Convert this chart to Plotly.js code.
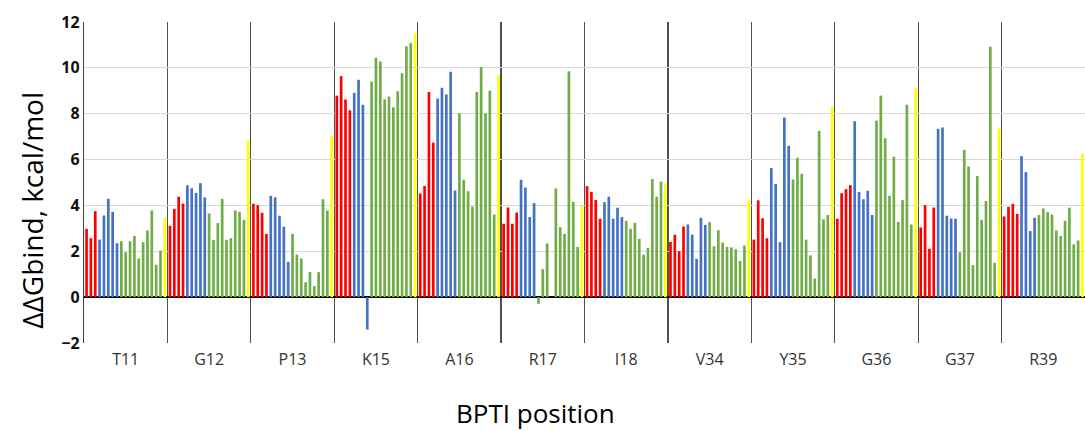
<!DOCTYPE html>
<html>
<head>
<meta charset="utf-8">
<script src="https://cdn.plot.ly/plotly-3.0.1.min.js"></script>
<style>html,body{margin:0;padding:0;background:#fff;}#chart{width:1085px;height:431px;}</style>
</head>
<body>
<div id="chart"></div>
<script>
// BPTI positions (x categories)
const positions = ['T11','G12','P13','K15','A16','R17','I18','V34','Y35','G36','G37','R39'];

// ΔΔGbind (kcal/mol) for the 19 substitutions at each position, left to right
const t11 = [2.98, 2.57, 3.75, 2.51, 3.56, 4.29, 3.72, 2.35, 2.44, 1.96, 2.44, 2.67, 1.69, 2.40, 2.91, 3.78, 1.41, 2.03, 3.49];
const g12 = [3.11, 3.85, 4.38, 4.08, 4.88, 4.75, 4.55, 4.97, 4.35, 3.65, 2.50, 3.23, 4.29, 2.50, 2.57, 3.78, 3.72, 3.37, 6.83];
const p13 = [4.07, 4.01, 3.68, 2.76, 4.42, 4.35, 3.55, 3.07, 1.54, 2.76, 1.86, 1.69, 0.65, 1.10, 0.48, 1.09, 4.27, 3.78, 7.05];
const k15 = [8.79, 9.64, 8.62, 8.15, 8.91, 9.48, 8.39, -1.41, 9.40, 10.44, 10.28, 8.63, 8.75, 8.28, 8.98, 9.77, 10.94, 11.08, 11.53];
const a16 = [4.52, 4.85, 8.95, 6.74, 8.66, 9.13, 8.84, 9.83, 4.65, 8.02, 5.12, 4.62, 3.95, 8.95, 10.04, 8.02, 9.01, 3.60, 9.68];
const r17 = [3.20, 3.91, 3.20, 3.69, 5.12, 4.78, 3.49, 4.10, -0.29, 1.22, 2.34, 0, 4.74, 3.05, 2.76, 9.85, 4.16, 2.19, 3.98];
const i18 = [4.84, 4.59, 4.24, 3.42, 4.14, 4.38, 3.42, 3.90, 3.49, 3.33, 2.98, 3.24, 2.54, 1.85, 2.15, 5.15, 4.38, 5.04, 4.96];
const v34 = [2.41, 2.72, 2.01, 3.08, 3.17, 2.73, 1.67, 3.46, 3.15, 3.27, 2.22, 2.92, 2.38, 2.19, 2.17, 2.09, 1.58, 2.25, 4.22];
const y35 = [2.51, 4.22, 3.44, 2.57, 5.63, 4.93, 2.40, 7.83, 6.60, 5.13, 6.08, 5.38, 2.51, 1.82, 0.81, 7.25, 3.40, 3.58, 8.31];
const g36 = [3.42, 4.53, 4.71, 4.88, 7.67, 4.59, 4.27, 4.64, 3.58, 7.70, 8.79, 6.93, 4.42, 6.12, 3.28, 4.23, 8.39, 3.17, 9.11];
const g37 = [3.04, 4.01, 2.11, 3.91, 7.34, 7.40, 3.55, 3.43, 3.42, 1.96, 6.42, 5.70, 1.40, 5.28, 3.37, 4.19, 10.92, 1.50, 7.35];
const r39 = [3.52, 3.94, 4.07, 3.63, 6.15, 5.45, 2.88, 3.46, 3.58, 3.87, 3.71, 3.60, 2.91, 2.67, 3.33, 3.90, 2.30, 2.47, 6.26];

// colour class of each bar (R red, B blue, G green, Y yellow)
const t11Class = 'RRRBBBBBGGGGGGGGGGY';
const g12Class = 'RRRRBBBBBGGGGGGGGGY';
const p13Class = 'RRRRBBBBBGGGGGGGGGY';
const k15Class = 'RRRRBBBBGGGGGGGGGGY';
const a16Class = 'RRRRBBBBBGGGGGGGGGY';
const r17Class = 'RRRRBBBBGGGGGGGGGGY';
const i18Class = 'RRRRBBBBBGGGGGGGGGY';
const v34Class = 'RRRRBBBBBGGGGGGGGGY';
const y35Class = 'RRRRBBBBBGGGGGGGGGY';
const g36Class = 'RRRRBBBBBGGGGGGGGGY';
const g37Class = 'RRRRBBBBBGGGGGGGGGY';
const r39Class = 'RRRRBBBBGGGGGGGGGGY';

const values = [t11, g12, p13, k15, a16, r17, i18, v34, y35, g36, g37, r39];
const classes = [t11Class, g12Class, p13Class, k15Class, a16Class, r17Class, i18Class, v34Class, y35Class, g36Class, g37Class, r39Class];
const palette = {R: '#FF0000', B: '#4472C4', G: '#70AD47', Y: '#FFFF00'};

const nSlots = t11.length;
const traces = [];
for (let k = 0; k < nSlots; k++) {
  traces.push({
    type: 'bar',
    x: positions,
    y: values.map(v => v[k]),
    marker: {color: classes.map(c => palette[c[k]]), line: {width: 0}},
    showlegend: false,
    hoverinfo: 'x+y'
  });
}

const layout = {
  width: 1085, height: 431,
  margin: {l: 84, r: 0, t: 22, b: 88},
  paper_bgcolor: '#ffffff', plot_bgcolor: '#ffffff',
  barmode: 'group', bargap: 0.009, bargroupgap: 0.38,
  xaxis: {
    type: 'category', tickson: 'boundaries', ticks: '',
    showgrid: true, gridcolor: '#505050', gridwidth: 1.3,
    showline: false, zeroline: false,
    tickfont: {family: 'Open Sans', size: 16, color: '#333333'},
    ticklabelstandoff: 5
  },
  yaxis: {
    range: [-2, 12], dtick: 2, tick0: 0,
    showgrid: true, gridcolor: '#d9d9d9', gridwidth: 1,
    zeroline: true, zerolinecolor: '#000000', zerolinewidth: 2,
    showline: true, linecolor: '#404040', linewidth: 1.2,
    ticks: '',
    tickfont: {family: 'Open Sans', size: 16, color: '#111111', weight: 700}
  },
  annotations: [
    {text: 'ΔΔGbind, kcal/mol', xref: 'paper', yref: 'paper', x: -0.0514, y: 0.414,
     xanchor: 'center', yanchor: 'middle', textangle: -90, showarrow: false,
     font: {family: 'Open Sans', size: 28, color: '#000000'}},
    {text: 'BPTI position', xref: 'paper', yref: 'paper', x: 0.4515, y: -0.219,
     xanchor: 'center', yanchor: 'middle', showarrow: false,
     font: {family: 'Open Sans', size: 26, color: '#000000'}}
  ]
};

Plotly.newPlot('chart', traces, layout, {staticPlot: true, displayModeBar: false});
</script>
</body>
</html>
